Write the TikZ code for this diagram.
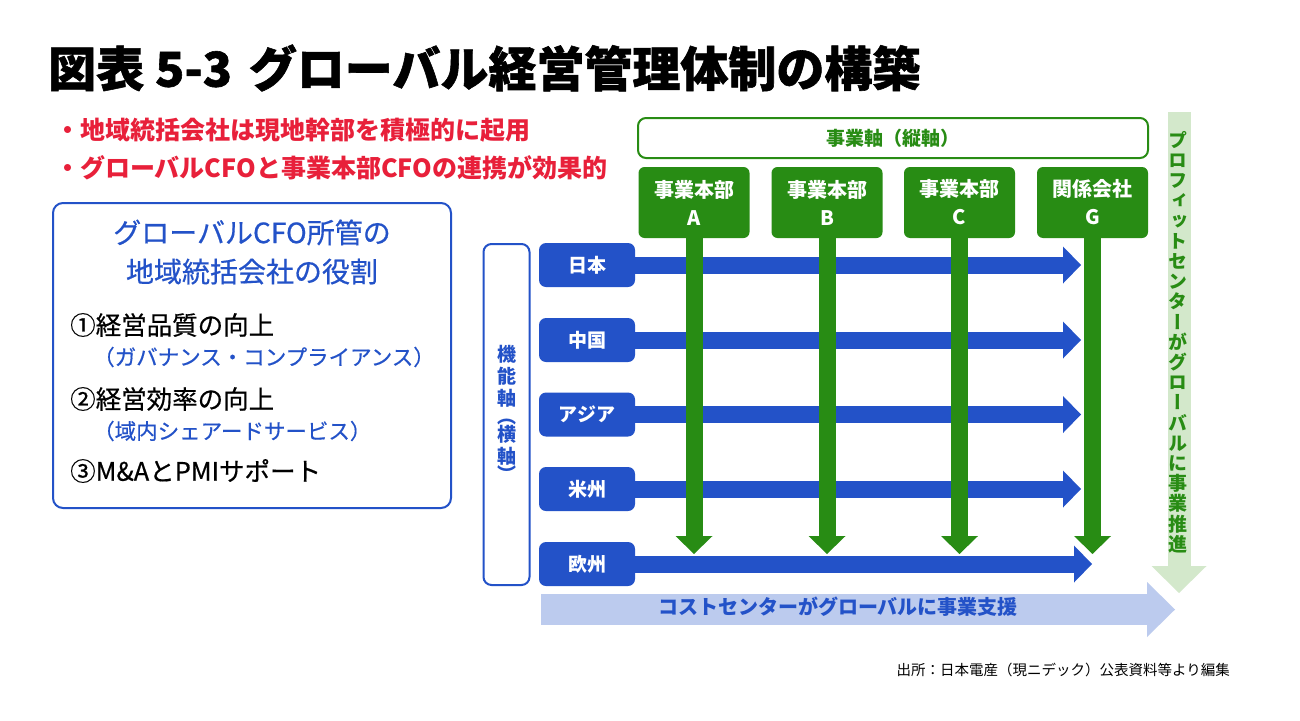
\documentclass[tikz,border=0pt]{standalone}
\usepackage{fontspec}
\setmainfont{Noto Sans CJK JP}
\newfontfamily\vjp[RawFeature=+vert]{Noto Sans CJK JP}
\newfontfamily\heavyjp[BoldFeatures={FakeBold=1.2}]{Noto Sans CJK JP}
\newfontfamily\medjp[FakeBold=0.5]{Noto Sans CJK JP}
\usetikzlibrary{arrows.meta,calc}
\definecolor{bizgreen}{HTML}{288C14}
\definecolor{bizblue}{HTML}{2352C8}
\definecolor{lgreen}{HTML}{D3E8CB}
\definecolor{lblue}{HTML}{BCCBEE}
\definecolor{bizred}{HTML}{E8203A}
\tikzset{
  gbox/.style={fill=bizgreen, rounded corners=6pt, minimum width=111pt, minimum height=71pt,
    text=white, font=\fontsize{20}{28}\selectfont\bfseries, align=center, inner sep=0pt},
  rbox/.style={fill=bizblue, rounded corners=7pt, minimum width=96pt, minimum height=44pt,
    text=white, font=\fontsize{19}{22}\selectfont\bfseries, inner sep=0pt},
  garrow/.style={draw=bizgreen, line width=17pt, -{Triangle[width=37pt,length=18pt,line width=0pt]}},
  barrow/.style={draw=bizblue, line width=17pt, -{Triangle[width=37pt,length=18pt,line width=0pt]}},
  redline/.style={anchor=west, text=bizred, font=\fontsize{25}{28}\selectfont\bfseries, inner sep=0pt},
  item/.style={anchor=west, text=black, font=\medjp\fontsize{25.5}{28}\selectfont, inner sep=0pt},
  subitem/.style={anchor=west, text=bizblue, font=\medjp\fontsize{21.5}{26}\selectfont, inner sep=0pt},
}
\begin{document}
\begin{tikzpicture}[x=1pt,y=-1pt]
\fill[white] (0,0) rectangle (1300,720);
\useasboundingbox (0,0) rectangle (1300,720);

% title
\node[anchor=west, inner sep=0pt, font=\heavyjp\fontsize{48}{56}\selectfont\bfseries] (title) at (48,68)
  {図表 5-3\hspace{0.35em}グローバル経営管理体制の構築};

% red bullets
\node[redline] (r1) at (55,130) {・地域統括会社は現地幹部を積極的に起用};
\node[redline] (r2) at (55,168) {・グローバルCFOと事業本部CFOの連携が効果的};

% left box
\node[draw=bizblue, line width=2pt, rounded corners=10pt, minimum width=398pt, minimum height=305pt, inner sep=0pt] (roles) at (252,355.5) {};
\node[text=bizblue, font=\medjp\fontsize{28}{39}\selectfont, align=center, inner sep=0pt] (rolestitle) at (252,252)
  {グローバルCFO所管の\\地域統括会社の役割};
\node[item] (i1) at (70,325) {①経営品質の向上};
\node[subitem] (s1) at (93,357) {（ガバナンス・コンプライアンス）};
\node[item] (i2) at (70,399) {②経営効率の向上};
\node[subitem] (s2) at (93,431) {（域内シェアードサービス）};
\node[item] (i3) at (70,471) {③M\&AとPMIサポート};

% business axis header
\node[draw=bizgreen, line width=2pt, rounded corners=8pt, minimum width=510pt, minimum height=40pt, inner sep=0pt,
  text=bizgreen, font=\fontsize{19}{22}\selectfont\bfseries] (bizaxis) at (893,138) {事業軸（縦軸）};

% light arrows
\coordinate (pctop) at (1179,112);
\coordinate (pcend) at (1179,593);
\draw[draw=lgreen, line width=23pt, -{Triangle[width=55pt,length=27pt,line width=0pt]}] (pctop) -- (pcend);
\node[font=\vjp\fontsize{19}{20.2}\selectfont\bfseries, text=bizgreen, align=center, inner sep=0pt] (pctext) at (1178,342)
  {プ\\ロ\\フ\\ィ\\ッ\\ト\\セ\\ン\\タ\\ー\\が\\グ\\ロ\\ー\\バ\\ル\\に\\事\\業\\推\\進};

\coordinate (ccstart) at (541,609.5);
\coordinate (ccend) at (1175,609.5);
\draw[draw=lblue, line width=31pt, -{Triangle[width=55pt,length=28pt,line width=0pt]}] (ccstart) -- (ccend);
\node[text=bizblue, font=\fontsize{20}{24}\selectfont\bfseries, inner sep=0pt] (cctext) at (838,607) {コストセンターがグローバルに事業支援};

% functional axis box
\node[draw=bizblue, line width=2pt, rounded corners=8pt, minimum width=46pt, minimum height=341pt, inner sep=0pt] (funcaxis) at (506.5,414.5) {};
\node[font=\vjp\fontsize{19}{22}\selectfont\bfseries, text=bizblue, align=center, inner sep=0pt, anchor=north] (functext) at (507,345)
  {機\\能\\軸\\[-4pt]（\\[-4pt]横\\軸\\[-4pt]）};

% region boxes
\node[rbox] (jp) at (587,265) {日本};
\node[rbox] (cn) at (587,340) {中国};
\node[rbox] (as) at (587,414.5) {アジア};
\node[rbox] (us) at (587,489) {米州};
\node[rbox] (eu) at (587,564) {欧州};

\coordinate (jpend) at (1081,265);
\coordinate (cnend) at (1081,340);
\coordinate (asend) at (1081,414.5);
\coordinate (usend) at (1081,489);
\coordinate (euend) at (1092,564);
\draw[barrow] (jp.east) -- (jpend);
\draw[barrow] (cn.east) -- (cnend);
\draw[barrow] (as.east) -- (asend);
\draw[barrow] (us.east) -- (usend);
\draw[barrow] (eu.east) -- (euend);

% business unit boxes
\node[gbox] (A) at (694,202.5) {事業本部\\A};
\node[gbox] (B) at (827,202.5) {事業本部\\B};
\node[gbox] (C) at (959.5,202.5) {事業本部\\C};
\node[gbox] (G) at (1092.5,202.5) {関係会社\\G};

\coordinate (Aend) at (694,554);
\coordinate (Bend) at (827,554);
\coordinate (Cend) at (959.5,554);
\coordinate (Gend) at (1092.5,554);
\draw[garrow] (A.south) -- (Aend);
\draw[garrow] (B.south) -- (Bend);
\draw[garrow] (C.south) -- (Cend);
\draw[draw=white, line width=17pt, -{Triangle[width=44pt,length=21pt,line width=0pt]}] (G.south) -- ($(Gend)+(0,3)$);
\draw[garrow] (G.south) -- (Gend);

% source
\node[anchor=east, inner sep=0pt, font=\fontsize{14.5}{17}\selectfont] (source) at (1230,670)
  {出所：日本電産（現ニデック）公表資料等より編集};
\end{tikzpicture}
\end{document}
